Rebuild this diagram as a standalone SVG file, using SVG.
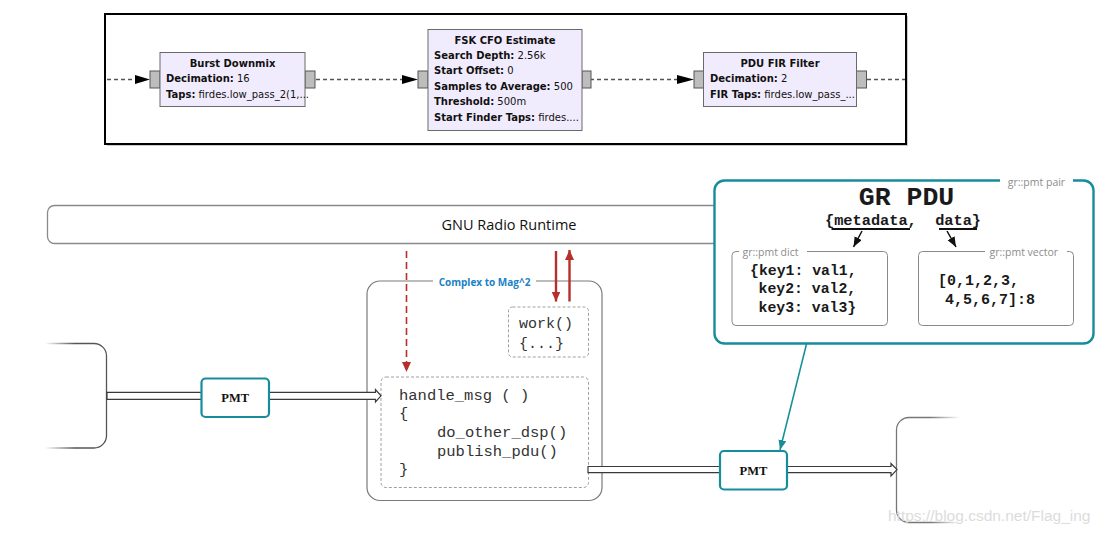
<svg xmlns="http://www.w3.org/2000/svg" width="1106" height="533" viewBox="0 0 1106 533">
<style>
.blk{fill:#f1ecfd;stroke:#6a6a6a;stroke-width:1}
.port{fill:#bdbdbd;stroke:#555;stroke-width:1}
.flow{stroke:#555;stroke-width:1.3;stroke-dasharray:4,3;fill:none}
.g{font-family:"DejaVu Sans",sans-serif;font-size:10px;fill:#111}
.gb{font-weight:bold}
.mono{font-family:"Liberation Mono","Courier New",monospace;fill:#333}
.monob{font-family:"Liberation Mono","Courier New",monospace;font-weight:bold;fill:#1a1a1a}
.lab{font-family:"Open Sans","DejaVu Sans",sans-serif;font-size:10.5px;fill:#8c8c8c}
.pmt{fill:#fff;stroke:#178d9c;stroke-width:2.2}
.pmtt{font-family:"Liberation Serif",serif;font-weight:bold;font-size:12.5px;fill:#111}
.dash{fill:#fff;stroke:#a0a0a0;stroke-width:1;stroke-dasharray:3,2}
.hollow{fill:#fff;stroke:#3a3a3a;stroke-width:1.2}
.red{stroke:#b5302a;stroke-width:2.4;fill:none}
</style>
<defs>
<marker id="rh" markerUnits="userSpaceOnUse" markerWidth="12" markerHeight="10" refX="10" refY="4.5" orient="auto"><path d="M0,0 L10,4.5 L0,9 Z" fill="#b5302a"/></marker>
<marker id="th" markerUnits="userSpaceOnUse" markerWidth="12" markerHeight="10" refX="10" refY="4" orient="auto"><path d="M0,0 L10,4 L0,8 Z" fill="#178d9c"/></marker>
<marker id="bh" markerUnits="userSpaceOnUse" markerWidth="12" markerHeight="10" refX="10" refY="4" orient="auto"><path d="M0,0 L10,4 L0,8 Z" fill="#111"/></marker>
<linearGradient id="fadeL" gradientUnits="userSpaceOnUse" x1="45" y1="0" x2="75" y2="0"><stop offset="0" stop-color="#555" stop-opacity="0"/><stop offset="1" stop-color="#555"/></linearGradient>
<linearGradient id="fadeR" gradientUnits="userSpaceOnUse" x1="930" y1="0" x2="960" y2="0"><stop offset="0" stop-color="#777"/><stop offset="1" stop-color="#777" stop-opacity="0"/></linearGradient>
</defs>
<rect width="1106" height="533" fill="#fff"/>

<!-- top GRC flowgraph screenshot -->
<g id="flowgraph">
<rect x="107" y="16" width="801" height="130" fill="#9a9a9a" opacity="0.5"/>
<rect x="105" y="14" width="801" height="130" fill="#fff" stroke="#000" stroke-width="2"/>
</g>
<g id="connectors-top">
<line class="flow" x1="107" y1="79.5" x2="136" y2="79.5"/>
<path d="M135,75 L150,79.5 L135,84 Z" fill="#000"/>
<line class="flow" x1="316" y1="79.5" x2="403" y2="79.5"/>
<path d="M402,75 L418,79.5 L402,84 Z" fill="#000"/>
<line class="flow" x1="590" y1="79.5" x2="678" y2="79.5"/>
<path d="M677,75 L694,79.5 L677,84 Z" fill="#000"/>
<line class="flow" x1="867" y1="79.5" x2="905" y2="79.5"/>
</g>
<g id="burst-downmix">
<rect class="port" x="150" y="71" width="10" height="17"/>
<rect class="port" x="305" y="71" width="10" height="17"/>
<rect class="blk" x="160" y="52.5" width="145" height="54"/>
<text class="g gb" x="232.5" y="66.5" text-anchor="middle">Burst Downmix</text>
<text class="g" x="166" y="82"><tspan class="gb">Decimation:</tspan> 16</text>
<text class="g" x="166" y="97.5"><tspan class="gb">Taps:</tspan> firdes.low_pass_2(1,...</text>
</g>
<g id="fsk-cfo">
<rect class="port" x="418" y="71" width="10" height="17"/>
<rect class="port" x="582" y="71" width="9" height="17"/>
<rect class="blk" x="428" y="29.5" width="154" height="101"/>
<text class="g gb" x="505" y="43.5" text-anchor="middle">FSK CFO Estimate</text>
<text class="g" x="434" y="58.5"><tspan class="gb">Search Depth:</tspan> 2.56k</text>
<text class="g" x="434" y="74"><tspan class="gb">Start Offset:</tspan> 0</text>
<text class="g" x="434" y="89.5"><tspan class="gb">Samples to Average:</tspan> 500</text>
<text class="g" x="434" y="105"><tspan class="gb">Threshold:</tspan> 500m</text>
<text class="g" x="434" y="120.5"><tspan class="gb">Start Finder Taps:</tspan> firdes....</text>
</g>
<g id="pdu-fir">
<rect class="port" x="694" y="71" width="9.5" height="17"/>
<rect class="port" x="856.5" y="71" width="10" height="17"/>
<rect class="blk" x="703.5" y="52.5" width="153" height="54"/>
<text class="g gb" x="780" y="66.5" text-anchor="middle">PDU FIR Filter</text>
<text class="g" x="710" y="82"><tspan class="gb">Decimation:</tspan> 2</text>
<text class="g" x="710" y="97.5"><tspan class="gb">FIR Taps:</tspan> firdes.low_pass_...</text>
</g>

<!-- runtime bar -->
<g id="runtime">
<rect x="47.5" y="205.5" width="1010" height="38" rx="7" fill="#fff" stroke="#8a8a8a" stroke-width="1.3"/>
<text x="509" y="230" text-anchor="middle" font-family="'Open Sans','DejaVu Sans',sans-serif" font-size="14.5" fill="#111">GNU Radio Runtime</text>
</g>

<!-- left partial node -->
<g id="left-node">
<path d="M45,343.5 H94 A12.5,12.5 0 0 1 106.5,356 V435.5 A12.5,12.5 0 0 1 94,448 H45" fill="none" stroke="url(#fadeL)" stroke-width="1.3"/>
</g>

<!-- right partial node -->
<g id="right-node">
<path d="M965,417.5 H909 A12.5,12.5 0 0 0 896.5,430 V510 A12.5,12.5 0 0 0 909,522.5 H965" fill="none" stroke="url(#fadeR)" stroke-width="1.3"/>
</g>

<!-- Complex to Mag^2 block -->
<g id="complex-to-mag2">
<rect x="367" y="281" width="235" height="219.5" rx="13" fill="#fff" stroke="#7a7a7a" stroke-width="1.2"/>
<rect x="433" y="275" width="103" height="12" fill="#fff"/>
<text x="484.5" y="286" text-anchor="middle" font-family="'Open Sans','DejaVu Sans',sans-serif" font-weight="bold" font-size="10" fill="#1a82c4">Complex to Mag^2</text>
</g>
<g id="work">
<rect class="dash" x="508.5" y="307" width="80" height="50" rx="4"/>
<text class="mono" x="519" y="328" font-size="15">work()</text>
<text class="mono" x="519" y="348" font-size="15">{...}</text>
</g>
<g id="handle-msg">
<rect class="dash" x="381" y="377" width="207.5" height="110.5" rx="5"/>
<text class="mono" x="399" y="399.5" font-size="15.5" xml:space="preserve">handle_msg ( )</text>
<text class="mono" x="399" y="418" font-size="15.5">{</text>
<text class="mono" x="437" y="437" font-size="15.5">do_other_dsp()</text>
<text class="mono" x="437" y="455.5" font-size="15.5">publish_pdu()</text>
<text class="mono" x="399" y="474" font-size="15.5">}</text>
</g>

<!-- connectors -->
<g id="connectors">
<path class="hollow" d="M107,392.3 H375.5 V389.5 L381,395.8 L375.5,402 V399.3 H107 Z"/>
<path class="hollow" d="M588,466.5 H891 V463.5 L897,469.6 L891,476 V472.7 H588 Z"/>
<line x1="406.5" y1="251" x2="406.5" y2="372" stroke="#b5302a" stroke-width="1.6" stroke-dasharray="7,4" marker-end="url(#rh)"/>
<line class="red" x1="556" y1="251" x2="556" y2="301.5" marker-end="url(#rh)"/>
<line class="red" x1="569.5" y1="301.5" x2="569.5" y2="250" marker-end="url(#rh)"/>
<line x1="806.5" y1="344" x2="780" y2="450" stroke="#178d9c" stroke-width="1.6" marker-end="url(#th)"/>
</g>

<!-- PMT boxes -->
<g id="pmt-in">
<rect class="pmt" x="201.5" y="378.5" width="67.5" height="38.5" rx="4"/>
<text class="pmtt" x="235.2" y="402" text-anchor="middle">PMT</text>
</g>
<g id="pmt-out">
<rect class="pmt" x="720" y="451" width="67" height="38.5" rx="4"/>
<text class="pmtt" x="753.5" y="474.5" text-anchor="middle">PMT</text>
</g>

<!-- GR PDU callout -->
<g id="gr-pdu">
<rect x="714.5" y="180.5" width="379" height="163" rx="10" fill="#fff" stroke="#178d9c" stroke-width="2.4"/>
<rect x="1000" y="175" width="73" height="11" fill="#fff"/>
<text class="lab" x="1036.5" y="186" text-anchor="middle">gr::pmt pair</text>
<text class="monob" x="906.5" y="205" text-anchor="middle" font-size="26.5">GR PDU</text>
<text class="monob" x="825" y="225" font-size="15.3" xml:space="preserve">{metadata,  data}</text>
<line x1="831.5" y1="229" x2="910" y2="229" stroke="#111" stroke-width="2"/>
<line x1="939" y1="229" x2="977" y2="229" stroke="#111" stroke-width="2"/>
<line x1="862" y1="231" x2="853.5" y2="247" stroke="#111" stroke-width="1.5" marker-end="url(#bh)"/>
<line x1="947" y1="231" x2="956" y2="247" stroke="#111" stroke-width="1.5" marker-end="url(#bh)"/>
</g>
<g id="pmt-dict">
<rect x="732" y="251.5" width="155.5" height="74" rx="4" fill="#fff" stroke="#8a8a8a" stroke-width="1"/>
<rect x="739" y="246" width="68" height="11" fill="#fff"/>
<text class="lab" x="742.5" y="256">gr::pmt dict</text>
<text class="monob" x="750" y="274.5" font-size="14.8">{key1: val1,</text>
<text class="monob" x="758.5" y="293" font-size="14.8">key2: val2,</text>
<text class="monob" x="758.5" y="311.5" font-size="14.8">key3: val3}</text>
</g>
<g id="pmt-vector">
<rect x="918.5" y="251.5" width="155" height="74" rx="4" fill="#fff" stroke="#8a8a8a" stroke-width="1"/>
<rect x="985" y="246" width="82" height="11" fill="#fff"/>
<text class="lab" x="989.5" y="256">gr::pmt vector</text>
<text class="monob" x="938" y="285" font-size="15">[0,1,2,3,</text>
<text class="monob" x="945" y="303.5" font-size="15">4,5,6,7]:8</text>
</g>

<text x="888" y="521" font-family="'Liberation Sans',Arial,sans-serif" font-size="15.5" fill="#dcdcdc">https://blog.csdn.net/Flag_ing</text>
</svg>
